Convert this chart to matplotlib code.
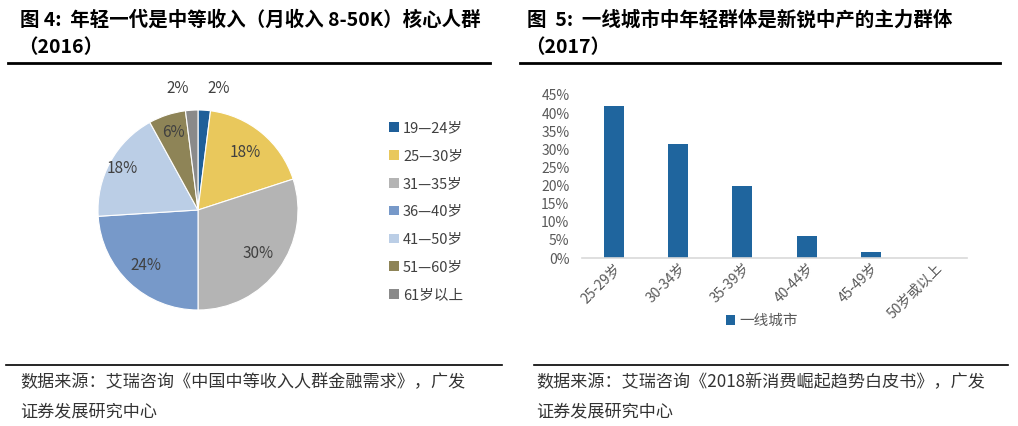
import matplotlib
matplotlib.use("Agg")
import matplotlib.pyplot as plt
import numpy as np
from matplotlib.lines import Line2D
from matplotlib.patches import Patch
from matplotlib.ticker import FuncFormatter

plt.rcParams['font.family'] = ['Noto Sans CJK SC', 'DejaVu Sans']

# 图4 数据
pie_labels = ["19—24岁", "25—30岁", "31—35岁", "36—40岁", "41—50岁", "51—60岁", "61岁以上"]
pie_values = [2, 18, 30, 24, 18, 6, 2]
pie_colors = ["#1F5F99", "#E9C85C", "#B4B4B4", "#7799C9", "#BBCEE6", "#8E8457", "#8A8A8A"]

# 图5 数据
bar_cats = ["25-29岁", "30-34岁", "35-39岁", "40-44岁", "45-49岁", "50岁或以上"]
bar_values = [42, 31.6, 20, 6.2, 1.7, 0]
bar_color = "#1F659E"

W, H = 1018, 426
fig = plt.figure(figsize=(W / 100, H / 100), dpi=100)
fig.patch.set_facecolor("white")


def px(x, y):
    # 像素坐标 -> figure 坐标
    return x / W, 1 - y / H


def hline(x0, x1, y, lw=2.0, color="black"):
    fig.add_artist(Line2D([x0 / W, x1 / W], [1 - y / H, 1 - y / H], color=color, lw=lw,
                          transform=fig.transFigure))


# 标题
title_kw = dict(fontsize=14, fontweight="bold", color="black", va="center", ha="left")
fig.text(*px(20, 20), "图 4:  年轻一代是中等收入（月收入 8-50K）核心人群", **title_kw)
fig.text(*px(18, 48), "（2016）", **title_kw)
fig.text(*px(527, 20), "图  5:  一线城市中年轻群体是新锐中产的主力群体", **title_kw)
fig.text(*px(525, 48), "（2017）", **title_kw)
hline(8, 490, 63)
hline(520, 1000, 63)
hline(6, 502, 365, lw=1.2)
hline(534, 1008, 365, lw=1.2)

src_kw = dict(fontsize=12.3, color="#333333", va="center", ha="left")
fig.text(*px(20, 382), "数据来源：艾瑞咨询《中国中等收入人群金融需求》，广发", **src_kw)
fig.text(*px(20, 411), "证券发展研究中心", **src_kw)
fig.text(*px(536, 382), "数据来源：艾瑞咨询《2018新消费崛起趋势白皮书》，广发", **src_kw)
fig.text(*px(536, 411), "证券发展研究中心", **src_kw)

# 饼图
ax1 = fig.add_axes([98 / W, (H - 310) / H, 200 / W, 200 / H])
wedges, _ = ax1.pie(pie_values, colors=pie_colors, startangle=90, counterclock=False,
                    wedgeprops=dict(linewidth=0.8, edgecolor="white"))
ax1.set_xlim(-1, 1)
ax1.set_ylim(-1, 1)
ax1.set_aspect("equal")
label_r = [1.22, 0.74, 0.74, 0.76, 0.87, 0.81, 1.22]
for i, (w, v) in enumerate(zip(wedges, pie_values)):
    ang = np.deg2rad((w.theta1 + w.theta2) / 2)
    r = label_r[i]
    dx = 0.13 if i == 0 else (-0.13 if i == len(pie_values) - 1 else 0)
    ax1.text(r * np.cos(ang) + dx, r * np.sin(ang), f"{v}%", ha="center", va="center",
             fontsize=11, color="#404040")

handles = [Patch(facecolor=c, edgecolor="none") for c in pie_colors]
fig.legend(handles, pie_labels, loc="upper left", bbox_to_anchor=px(376, 108),
           frameon=False, fontsize=10.5, handlelength=0.65, handleheight=0.65,
           handletextpad=0.3, labelspacing=0.95, labelcolor="#404040")

# 柱状图
ax2 = fig.add_axes([582 / W, (H - 258) / H, 385 / W, 163 / H])
x = np.arange(len(bar_cats))
ax2.bar(x, bar_values, width=0.31, color=bar_color, label="一线城市")
ax2.set_xlim(-0.5, len(bar_cats) - 0.5)
ax2.set_ylim(0, 45)
ax2.set_yticks(range(0, 46, 5))
ax2.yaxis.set_major_formatter(FuncFormatter(lambda v, p: f"{int(v)}%"))
ax2.set_xticks(x)
ax2.set_xticklabels(bar_cats, rotation=45, ha="right", rotation_mode="anchor")
ax2.tick_params(axis="both", length=0, labelsize=10, labelcolor="#595959")
ax2.tick_params(axis="y", pad=9)
ax2.tick_params(axis="x", pad=2)
for s in ["top", "right", "left"]:
    ax2.spines[s].set_visible(False)
ax2.spines["bottom"].set_color("#D9D9D9")
ax2.spines["bottom"].set_linewidth(1.2)
fig.legend(*ax2.get_legend_handles_labels(), loc="center", bbox_to_anchor=px(762, 321),
           frameon=False, fontsize=10.5, handlelength=0.65, handleheight=0.65,
           handletextpad=0.3, labelcolor="#595959")

fig.savefig("out.png", dpi=100)
